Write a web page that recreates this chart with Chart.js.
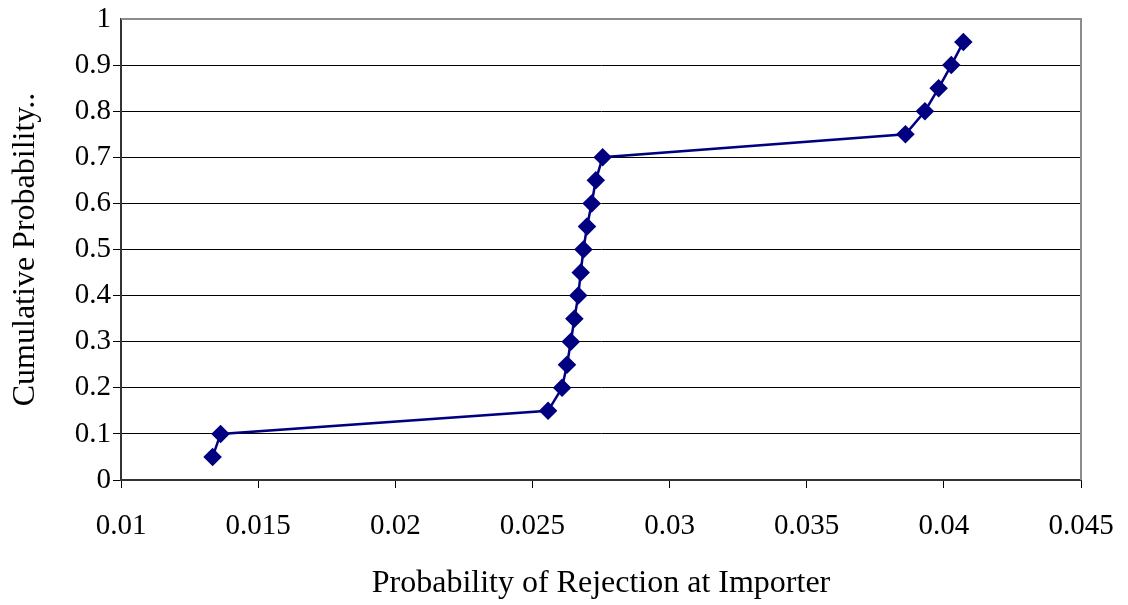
<!DOCTYPE html>
<html>
<head>
<meta charset="utf-8">
<script src="https://cdn.jsdelivr.net/npm/chart.js@4/dist/chart.umd.min.js"></script>
<style>
  html, body { margin: 0; padding: 0; background: #fff; }
  #wrap { width: 1128px; height: 605px; position: relative; }
</style>
</head>
<body>
<div id="wrap"><canvas id="cdfChart"></canvas></div>
<script>
// rejection probability at importer vs cumulative probability
const rejectionProb = [0.01334, 0.01363, 0.02557, 0.02608, 0.02626, 0.02640, 0.02653, 0.02667,
  0.02676, 0.02686, 0.02699, 0.02716, 0.02731, 0.02756, 0.03860, 0.03931, 0.03981, 0.04027, 0.04071];
const cumulativeProb = [0.05, 0.1, 0.15, 0.2, 0.25, 0.3, 0.35, 0.4, 0.45, 0.5, 0.55, 0.6, 0.65, 0.7,
  0.75, 0.8, 0.85, 0.9, 0.95];
const xTicks = [0.01, 0.015, 0.02, 0.025, 0.03, 0.035, 0.04, 0.045];
const yTicks = [0, 0.1, 0.2, 0.3, 0.4, 0.5, 0.6, 0.7, 0.8, 0.9, 1];

const serif = 'Liberation Serif';
const points = rejectionProb.map((x, i) => ({ x: x, y: cumulativeProb[i] }));

// grey frame around the plot area (top / right edges)
const frame = {
  id: 'frame',
  beforeDatasetsDraw(chart) {
    const a = chart.chartArea;
    const ctx = chart.ctx;
    ctx.save();
    ctx.strokeStyle = '#8c8c8c';
    ctx.lineWidth = 2;
    ctx.beginPath();
    ctx.moveTo(a.left, a.top);
    ctx.lineTo(a.right, a.top);
    ctx.lineTo(a.right, a.bottom);
    ctx.stroke();
    ctx.restore();
  }
};

new Chart(document.getElementById('cdfChart'), {
  type: 'scatter',
  data: {
    datasets: [{
      data: points,
      showLine: true,
      borderColor: '#000080',
      backgroundColor: '#000080',
      borderWidth: 2.5,
      pointStyle: 'rectRot',
      pointRadius: 7.5,
      pointHoverRadius: 7.5,
      tension: 0
    }]
  },
  options: {
    responsive: true,
    maintainAspectRatio: false,
    animation: false,
    layout: { padding: { top: 19, right: 47, left: 0, bottom: 0 } },
    plugins: {
      legend: { display: false },
      tooltip: { enabled: false }
    },
    scales: {
      x: {
        type: 'linear',
        min: 0.01,
        max: 0.045,
        afterFit(scale) {
          scale.height = 125;
          scale.paddingLeft = 0;
          scale.paddingRight = 0;
        },
        afterBuildTicks(scale) { scale.ticks = xTicks.map(v => ({ value: v })); },
        grid: { drawOnChartArea: false, drawTicks: true, tickLength: 8, color: '#000', lineWidth: 1 },
        border: { color: '#333', width: 2 },
        ticks: {
          padding: 21,
          color: '#000',
          font: { family: serif, size: 29 },
          callback: v => String(+v.toFixed(3))
        },
        title: {
          display: true,
          text: 'Probability of Rejection at Importer',
          color: '#000',
          font: { family: serif, size: 32 },
          padding: { top: 0, bottom: 2 }
        }
      },
      y: {
        type: 'linear',
        min: 0,
        max: 1,
        afterFit(scale) {
          scale.width = 121;
          scale.paddingTop = 0;
          scale.paddingBottom = 0;
        },
        afterBuildTicks(scale) { scale.ticks = yTicks.map(v => ({ value: v })); },
        grid: {
          drawTicks: true,
          tickLength: 8,
          color: ctx => (ctx.tick && ctx.tick.value === 1 ? 'rgba(0,0,0,0)' : '#000'),
          lineWidth: 1
        },
        border: { color: '#333', width: 2 },
        ticks: {
          padding: 2,
          color: '#000',
          font: { family: serif, size: 29 },
          callback: v => String(+v.toFixed(1))
        },
        title: {
          display: true,
          text: 'Cumulative Probability..',
          color: '#000',
          font: { family: serif, size: 32 },
          padding: { top: 6, bottom: 0 }
        }
      }
    }
  },
  plugins: [frame]
});
</script>
</body>
</html>
